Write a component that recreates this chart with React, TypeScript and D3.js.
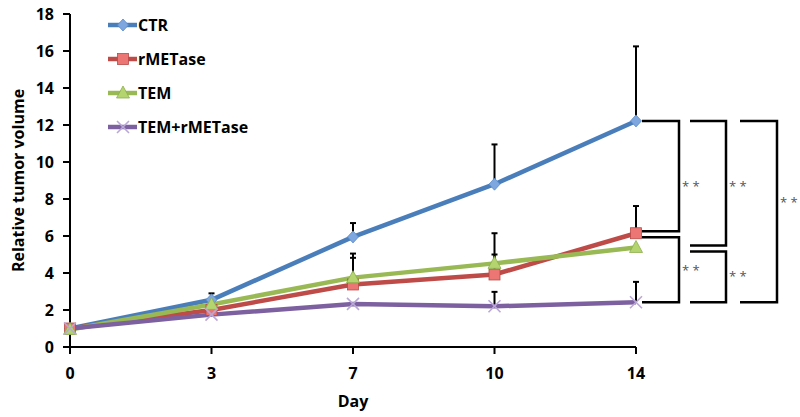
import React from "react";
import * as d3 from "d3";

const days = ["0", "3", "7", "10", "14"];
const seriesNames = ["CTR", "rMETase", "TEM", "TEM+rMETase"];
const ctr = [1, 2.55, 5.95, 8.8, 12.22];
const rmetase = [1, 2.0, 3.38, 3.92, 6.15];
const tem = [0.95, 2.3, 3.75, 4.52, 5.38];
const temRmetase = [1, 1.75, 2.33, 2.2, 2.42];
const ctrErrTop = [1, 2.9, 6.7, 10.95, 16.25];
const rmetaseErrTop = [1, 2.0, 4.82, 5.0, 7.62];
const temErrTop = [0.95, 2.3, 5.05, 6.15, 5.38];
const temRmetaseErrTop = [1, 1.75, 2.33, 2.98, 3.52];
const yTicks = [0, 2, 4, 6, 8, 10, 12, 14, 16, 18];
// significance brackets: [upper series index, lower series index, column]
const brackets = [
  [0, 1, 0],
  [1, 3, 0],
  [0, 2, 1],
  [2, 3, 1],
  [0, 3, 2],
];
const sigLabel = "* *";

const lineColors = ["#4A7EBB", "#BE4B48", "#98B954", "#7D60A0"];
const markerFill = ["#7DA7DE", "#EC7674", "#B3D46E", "#B9A7D6"];

export default function App() {
  const W = 800, H = 417;
  const x = d3.scalePoint<string>().domain(days).range([70, 636]);
  const y = d3.scaleLinear().domain([0, 18]).range([347, 14]);
  const data = [ctr, rmetase, tem, temRmetase];
  const errs = [ctrErrTop, rmetaseErrTop, temErrTop, temRmetaseErrTop];
  const line = d3
    .line<number>()
    .x((_, i) => x(days[i]) as number)
    .y((d) => y(d));
  const font = "'Open Sans', 'Liberation Sans', sans-serif";

  const marker = (k: number, cx: number, cy: number, key: string) => {
    const s = 5.5;
    if (k === 0)
      return (
        <path key={key} d={`M${cx},${cy - s - 0.5}L${cx + s},${cy}L${cx},${cy + s + 0.5}L${cx - s},${cy}Z`}
          fill={markerFill[0]} stroke="#5B8BC9" strokeWidth={0.8} />
      );
    if (k === 1)
      return (
        <rect key={key} x={cx - 5.5} y={cy - 5.5} width={11} height={11}
          fill={markerFill[1]} stroke="#B84A47" strokeWidth={0.8} />
      );
    if (k === 2)
      return (
        <path key={key} d={`M${cx},${cy - 7}L${cx + 6.5},${cy + 5}L${cx - 6.5},${cy + 5}Z`}
          fill={markerFill[2]} stroke="#8CAF4C" strokeWidth={0.8} />
      );
    return (
      <g key={key} stroke={markerFill[3]} strokeWidth={1.6}>
        <line x1={cx - 6} y1={cy - 6} x2={cx + 6} y2={cy + 6} />
        <line x1={cx - 6} y1={cy + 6} x2={cx + 6} y2={cy - 6} />
      </g>
    );
  };

  const x14 = x("14") as number;
  const colX = [[x14 + 6, x14 + 43], [x14 + 54, x14 + 90], [x14 + 104, x14 + 141]];
  const labelShift = [7, 0, 0, -1, -12];

  return (
    <svg width={W} height={H} style={{ position: "absolute", left: 0, top: 0 }}>
      <rect width={W} height={H} fill="#fff" />
      {/* axes */}
      <line x1={70} x2={70} y1={y(18)} y2={y(0)} stroke="#000" strokeWidth={2} />
      <line x1={70} x2={x14} y1={y(0)} y2={y(0)} stroke="#000" strokeWidth={2} />
      {yTicks.map((t) => (
        <g key={"yt" + t}>
          <line x1={63} x2={70} y1={y(t)} y2={y(t)} stroke="#000" strokeWidth={2} />
          <text x={54} y={y(t)} dy="0.36em" textAnchor="end" fontFamily={font}
            fontWeight={700} fontSize={16} fill="#000">{t}</text>
        </g>
      ))}
      {days.map((d) => (
        <g key={"xt" + d}>
          <line x1={x(d) as number} x2={x(d) as number} y1={y(0)} y2={y(0) + 7} stroke="#000" strokeWidth={2} />
          <text x={x(d) as number} y={379} textAnchor="middle" fontFamily={font}
            fontWeight={700} fontSize={16} fill="#000">{d}</text>
        </g>
      ))}
      <text x={353} y={407} textAnchor="middle" fontFamily={font} fontWeight={700} fontSize={16}>Day</text>
      <text transform={`translate(24,${(y(0) + y(18)) / 2}) rotate(-90)`} textAnchor="middle"
        fontFamily={font} fontWeight={700} fontSize={16}>Relative tumor volume</text>

      {/* error bars */}
      {errs.map((e, k) =>
        e.map((top, i) =>
          top > data[k][i] + 0.05 ? (
            <g key={`e${k}-${i}`} stroke="#000" strokeWidth={2}>
              <line x1={x(days[i]) as number} x2={x(days[i]) as number} y1={y(data[k][i])} y2={y(top)} />
              <line x1={(x(days[i]) as number) - 3} x2={(x(days[i]) as number) + 3} y1={y(top)} y2={y(top)} />
            </g>
          ) : null
        )
      )}

      {/* lines */}
      {data.map((d, k) => (
        <path key={"l" + k} d={line(d) as string} fill="none" stroke={lineColors[k]} strokeWidth={4.5}
          strokeLinejoin="round" />
      ))}
      {data.map((d, k) => d.map((v, i) => marker(k, x(days[i]) as number, y(v), `m${k}-${i}`)))}

      {/* brackets */}
      {brackets.map(([a, b, c], i) => {
        const ya = y(data[a][4]);
        const yb = y(data[b][4]);
        const [xl, xr] = colX[c];
        const gapTop = c < 2 && a !== 0 ? 4 : 0;
        const gapBot = c < 2 && b !== 3 ? -2 : 0;
        return (
          <g key={"b" + i}>
            <path d={`M${xl},${ya + gapTop}H${xr}V${yb + gapBot}H${xl}`} fill="none" stroke="#000" strokeWidth={2.5} />
            <text x={xr + 3} y={(ya + yb) / 2 + labelShift[i]} dy="0.55em" fontFamily={font}
              fontSize={13} fill="#555">{sigLabel}</text>
          </g>
        );
      })}

      {/* legend */}
      {seriesNames.map((n, k) => {
        const ly = 25 + k * 34;
        return (
          <g key={"lg" + k}>
            <line x1={108} x2={137} y1={ly} y2={ly} stroke={lineColors[k]} strokeWidth={4.5} />
            {marker(k, 123, ly, "lm" + k)}
            <text x={138} y={ly} dy="0.36em" fontFamily={font} fontWeight={700} fontSize={16}>{n}</text>
          </g>
        );
      })}
    </svg>
  );
}
